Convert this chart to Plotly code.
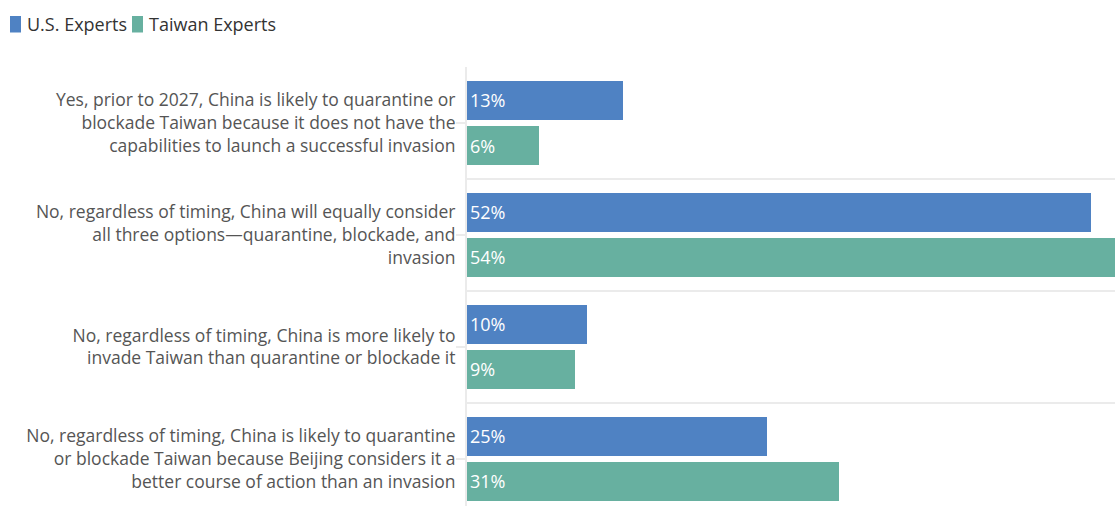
import plotly.graph_objects as go

# Survey answers (one per category), pre-wrapped for the axis labels
categories = [
    "Yes, prior to 2027, China is likely to quarantine or<br>"
    "blockade Taiwan because it does not have the<br>"
    "capabilities to launch a successful invasion",
    "No, regardless of timing, China will equally consider<br>"
    "all three options—quarantine, blockade, and<br>"
    "invasion",
    "No, regardless of timing, China is more likely to<br>"
    "invade Taiwan than quarantine or blockade it",
    "No, regardless of timing, China is likely to quarantine<br>"
    "or blockade Taiwan because Beijing considers it a<br>"
    "better course of action than an invasion",
]

series_names = ["U.S. Experts", "Taiwan Experts"]
us_values = [13, 52, 10, 25]
taiwan_values = [6, 54, 9, 31]

BLUE = "#4f82c3"
GREEN = "#67b0a0"
GRID = "#ebebeb"
FONT = "Open Sans"

W, H = 1115, 506
M_L, M_R, M_T, M_B = 467, 0, 67, 0
plot_w = W - M_L - M_R
plot_h = H - M_T - M_B


def px_to_paper_x(px):
    return (px - M_L) / plot_w


def px_to_paper_y(py):
    return (H - M_B - py) / plot_h


fig = go.Figure()
for name, vals, color in [(series_names[0], us_values, BLUE),
                          (series_names[1], taiwan_values, GREEN)]:
    fig.add_trace(go.Bar(
        name=name, x=vals, y=categories, orientation="h",
        marker=dict(color=color, line=dict(width=0)),
        texttemplate="%{x}%", textposition="inside",
        insidetextanchor="start",
        textfont=dict(color="white", size=18, family=FONT),
        cliponaxis=False, showlegend=False,
    ))

# Separators between categories
shapes = [dict(type="line", xref="paper", x0=0, x1=1, yref="y",
               y0=k + 0.5, y1=k + 0.5, line=dict(color=GRID, width=2),
               layer="below")
          for k in range(len(categories) - 1)]

# Legend across the top-left: colour chip followed by the series name
annotations = []
legend_items = [(series_names[0], BLUE, 10), (series_names[1], GREEN, 132)]
for name, color, left in legend_items:
    shapes.append(dict(
        type="rect", xref="paper", yref="paper",
        x0=px_to_paper_x(left), x1=px_to_paper_x(left + 11),
        y0=px_to_paper_y(32.5), y1=px_to_paper_y(16),
        fillcolor=color, line=dict(width=0),
    ))
    annotations.append(dict(
        xref="paper", yref="paper",
        x=px_to_paper_x(left + 15), y=px_to_paper_y(24),
        xanchor="left", yanchor="middle", showarrow=False,
        text=name, font=dict(size=18, color="#333333", family=FONT),
    ))

fig.update_layout(
    width=W, height=H,
    margin=dict(l=M_L, r=M_R, t=M_T, b=M_B),
    paper_bgcolor="white", plot_bgcolor="white",
    barmode="group", bargap=0.196, bargroupgap=0.133,
    font=dict(family=FONT, size=17.5, color="#333333"),
    showlegend=False,
    shapes=shapes,
    annotations=annotations,
)
fig.update_xaxes(range=[0, 54], visible=False, fixedrange=True)
fig.update_yaxes(
    categoryorder="array", categoryarray=categories,
    range=[len(categories) - 0.5 - 0.08, -0.5],
    tickfont=dict(size=17.5, color="#555555", family=FONT),
    ticklabelstandoff=-3,
    showgrid=False,
    showline=True, linecolor=GRID, linewidth=2,
    ticks="outside", ticklen=9, tickcolor=GRID, tickwidth=2,
    zeroline=False, fixedrange=True,
)

fig.write_html("out.html")
